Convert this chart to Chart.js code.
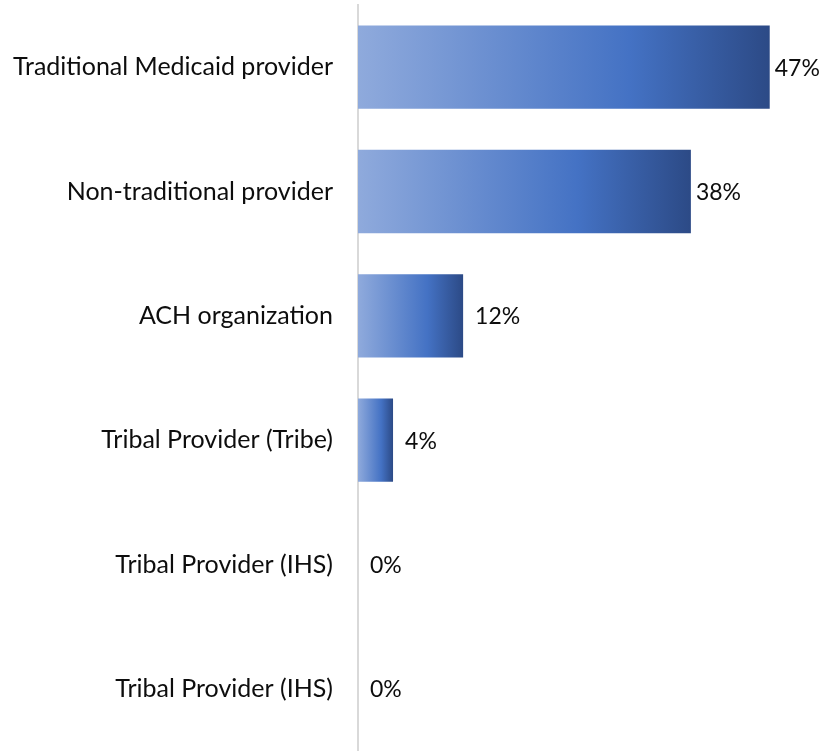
<!DOCTYPE html>
<html><head><meta charset="utf-8">
<script src="https://cdn.jsdelivr.net/npm/chart.js@4.4.0/dist/chart.umd.min.js"></script>
<style>html,body{margin:0;padding:0;background:#fff;overflow:hidden}canvas{display:block}</style>
</head><body><canvas id="c" width="822" height="751"></canvas>
<script>
const categories = ["Traditional Medicaid provider","Non-traditional provider","ACH organization","Tribal Provider (Tribe)","Tribal Provider (IHS)","Tribal Provider (IHS)"];
const values = [47, 38, 12, 4, 0, 0];
const valueLabels = ["47%","38%","12%","4%","0%","0%"];

const FONT = "Lato";
const labelPlugin = {
  id: 'valLabels',
  afterDatasetsDraw(chart) {
    const {ctx} = chart;
    const meta = chart.getDatasetMeta(0);
    ctx.save();
    ctx.font = "23px " + FONT;
    ctx.fillStyle = "#0d0d0d";
    ctx.textBaseline = "middle";
    ctx.textAlign = "left";
    meta.data.forEach((bar, i) => {
      ctx.fillText(valueLabels[i], bar.x + (i < 2 ? 5 : 12), bar.y + 1);
    });
    ctx.restore();
  }
};

new Chart(document.getElementById('c'), {
  type: 'bar',
  data: {
    labels: categories,
    datasets: [{
      data: values,
      barPercentage: 0.67,
      categoryPercentage: 1,
      borderWidth: 0,
      backgroundColor(context) {
        const chart = context.chart;
        const {ctx, chartArea} = chart;
        if (!chartArea || !chart.scales.x) return '#4472c4';
        const xs = chart.scales.x;
        const x0 = xs.getPixelForValue(0);
        const v = context.raw || 0;
        let x1 = xs.getPixelForValue(v);
        if (x1 - x0 < 1) x1 = x0 + 1;
        const g = ctx.createLinearGradient(x0, 0, x1, 0);
        g.addColorStop(0, '#8faadc');
        g.addColorStop(0.66, '#4472c4');
        g.addColorStop(1, '#2c4a86');
        return g;
      }
    }]
  },
  options: {
    indexAxis: 'y',
    responsive: false,
    animation: false,
    layout: { padding: { top: 5, right: 26, bottom: 0, left: 0 } },
    plugins: { legend: { display: false }, tooltip: { enabled: false } },
    scales: {
      x: { display: false, min: 0, max: 50 },
      y: {
        grid: { display: false, drawTicks: false },
        border: { display: true, color: '#d9d9d9', width: 2 },
        ticks: { color: '#0d0d0d', font: { family: FONT, size: 25 }, padding: 25 },
        afterFit(scale) { scale.width = 358; scale.paddingTop = 0; scale.paddingBottom = 0; }
      }
    }
  },
  plugins: [labelPlugin]
});
</script></body></html>
